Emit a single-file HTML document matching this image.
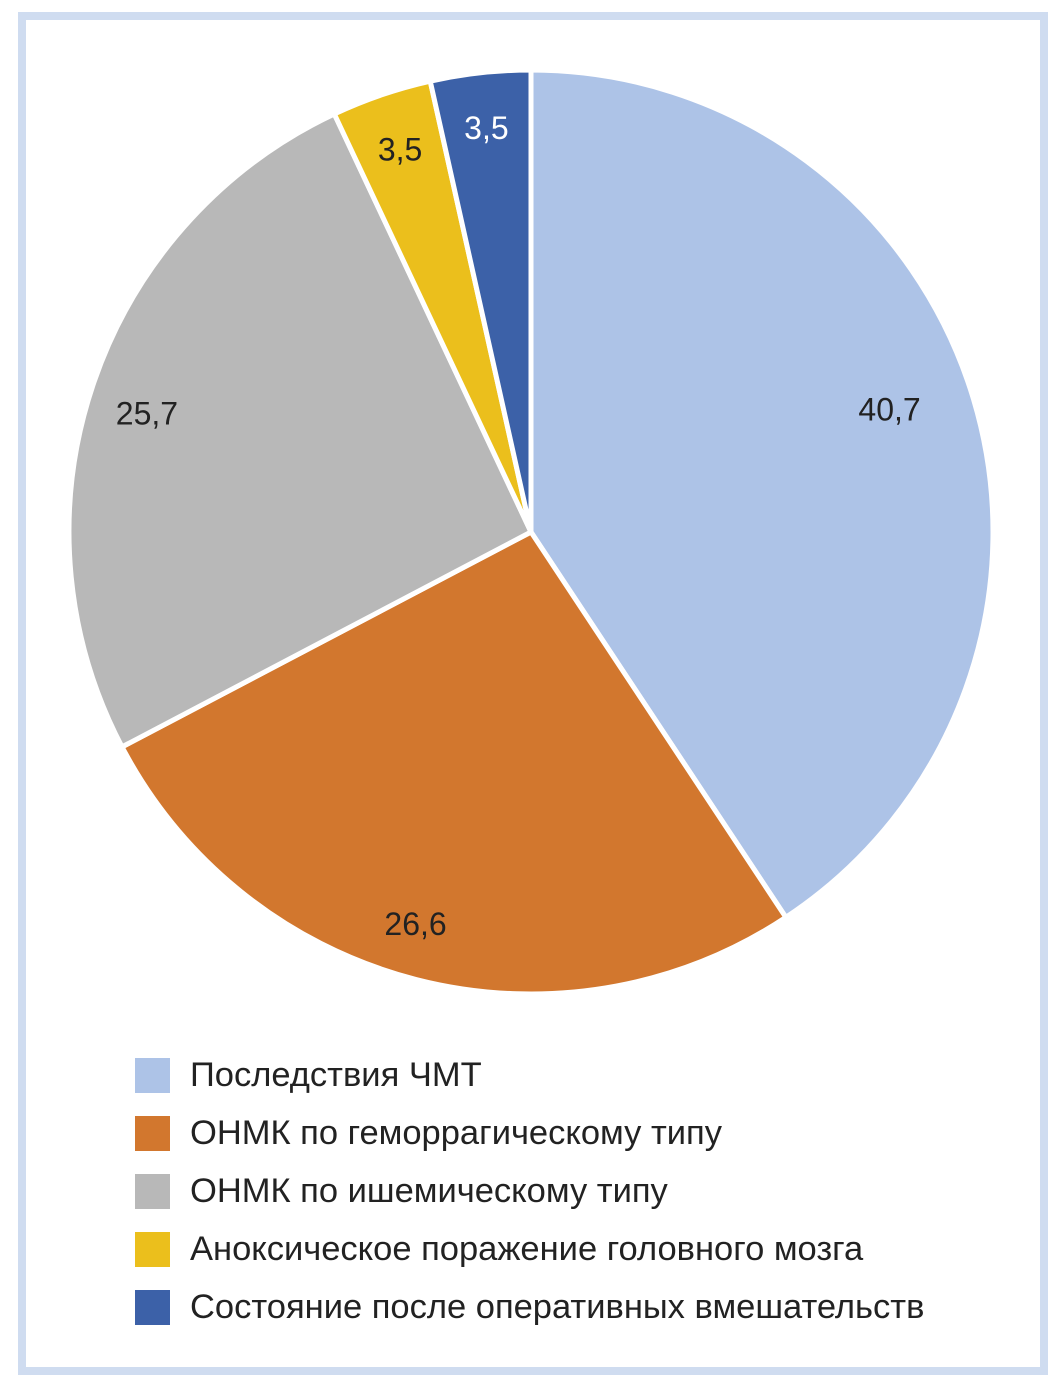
<!DOCTYPE html>
<html><head><meta charset="utf-8"><style>
body{margin:0;width:1059px;height:1392px;background:#fff;position:relative;font-family:"Liberation Sans",sans-serif;overflow:hidden}
#frame{position:absolute;left:18px;top:12px;width:1014px;height:1347px;border:8px solid #cfdcf0}
.leg{position:absolute;left:135px;height:36px;display:flex;align-items:center}
.sw{width:35px;height:35px;margin-right:20px}
.lt{font-size:34.5px;color:#222}
</style></head><body>
<div id="frame"></div>
<svg id="pie" width="1059" height="1050" style="position:absolute;left:0;top:0"></svg>
<div id="legend"></div>
<script>
const categories=["Последствия ЧМТ","ОНМК по геморрагическому типу","ОНМК по ишемическому типу","Аноксическое поражение головного мозга","Состояние после оперативных вмешательств"];
const values=[40.7,26.6,25.7,3.5,3.5];
const labels=["40,7","26,6","25,7","3,5","3,5"];
const colors=["#adc3e7","#d2772e","#b8b8b8","#ebbf1c","#3c61a8"];
const labelColors=["#222","#222","#222","#222","#fff"];
const cx=531,cy=532,r=462;
const svg=document.getElementById('pie');
const NS="http://www.w3.org/2000/svg";
const total=values.reduce((a,b)=>a+b,0);
let a0=0;
const labelR=[0.82,0.885,0.87,0.875,0.88];
const labelDeg=[-2.1,2,-1.4,0,0];
values.forEach((v,i)=>{
  const a1=a0+v/total*2*Math.PI;
  const p=(a)=>[cx+r*Math.sin(a),cy-r*Math.cos(a)];
  const [x0,y0]=p(a0),[x1,y1]=p(a1);
  const path=document.createElementNS(NS,'path');
  path.setAttribute('d',`M${cx},${cy}L${x0},${y0}A${r},${r} 0 ${a1-a0>Math.PI?1:0} 1 ${x1},${y1}Z`);
  path.setAttribute('fill',colors[i]);path.setAttribute('stroke','#fff');path.setAttribute('stroke-width','5');
  
  
  svg.appendChild(path);
  a0=a1;
});
a0=0;
values.forEach((v,i)=>{
  const a1=a0+v/total*2*Math.PI, am=(a0+a1)/2+labelDeg[i]*Math.PI/180, lr=r*labelR[i];
  const t=document.createElementNS(NS,'text');
  t.setAttribute('x',cx+lr*Math.sin(am));t.setAttribute('y',cy-lr*Math.cos(am)+11);
  t.setAttribute('text-anchor','middle');t.setAttribute('font-size','32');t.setAttribute('fill',labelColors[i]);
  t.setAttribute('font-family','Liberation Sans, sans-serif');
  t.textContent=labels[i];
  
  
  svg.appendChild(t);
  a0=a1;
});
const leg=document.getElementById('legend');
categories.forEach((c,i)=>{
  const d=document.createElement('div');d.className='leg';d.style.top=(1057+i*58)+'px';
  
  
  d.innerHTML='<div class="sw" style="background:'+colors[i]+'"></div><span class="lt">'+c+'</span>';
  leg.appendChild(d);
});
</script>
</body></html>
